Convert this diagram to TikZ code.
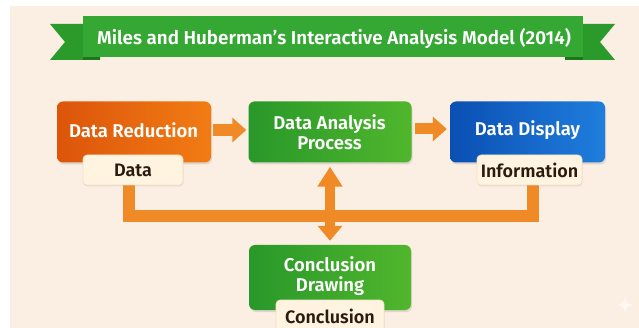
\documentclass[tikz,border=0pt]{standalone}
\usepackage{fontspec}
\setmainfont{Fira Sans}[BoldFont={Fira Sans SemiBold}]
\usetikzlibrary{arrows.meta,shadows}
\definecolor{bg}{HTML}{FBEEE2}
\definecolor{orL}{HTML}{DC550A}
\definecolor{orR}{HTML}{F27C14}
\definecolor{grL}{HTML}{28982A}
\definecolor{grR}{HTML}{50B62C}
\definecolor{blL}{HTML}{0B4FB3}
\definecolor{blR}{HTML}{1F7EDD}
\definecolor{cream}{HTML}{FFF4E0}
\definecolor{creamedge}{HTML}{F1DFC4}
\definecolor{dtext}{HTML}{2A1A10}
\definecolor{arrc}{HTML}{F08A26}
\definecolor{bann}{HTML}{35A733}
\definecolor{bannT}{HTML}{2A9A2A}
\definecolor{bannF}{HTML}{1B761D}
\tikzset{
  boxnode/.style={rounded corners=6pt, minimum height=61pt, inner sep=0pt,
    drop shadow={opacity=0.22, shadow xshift=1pt, shadow yshift=-2pt}},
  boxtext/.style={text=white, font=\fontsize{18.5}{20.5}\selectfont\bfseries, align=center},
  lblnode/.style={rounded corners=4pt, fill=cream, draw=creamedge, line width=0.6pt,
    text=dtext, font=\fontsize{18}{20}\selectfont\bfseries, inner sep=0pt, minimum height=30pt,
    drop shadow={opacity=0.15, shadow xshift=0.5pt, shadow yshift=-1.5pt}},
  arr/.style={draw=arrc, line width=12pt, -{Triangle[length=14pt,width=24pt]}},
  fb/.style={draw=arrc, line width=12pt, line join=miter},
}
\begin{document}
\begin{tikzpicture}[x=1pt,y=-1pt]
\useasboundingbox (0,0) rectangle (639,328);
\fill[white] (0,0) rectangle (639,328);
\fill[bg] (10,6) rectangle (639,328);

% banner
\fill[bannT] (50,24) -- (100,24) -- (100,60) -- (50,60) -- (65,42) -- cycle;
\fill[bannT] (615,24) -- (565,24) -- (565,60) -- (615,60) -- (600,42) -- cycle;
\fill[bannF] (83,57) -- (100,57) -- (100,60) -- (83,60) -- cycle;
\fill[bannF] (583,57) -- (565,57) -- (565,60) -- (583,60) -- cycle;
\node[fill=bann, minimum width=500pt, minimum height=41pt, inner sep=0pt, text=white,
  font=\fontsize{18.8}{22}\selectfont\bfseries] (title) at (333,36.5) {};
\node[text=white, font=\fontsize{18.8}{22}\selectfont\bfseries] (titlet) at (334,38.5)
  {Miles and Huberman’s Interactive Analysis Model (2014)};

% boxes
\node[boxnode, left color=orL, right color=orR, minimum width=154pt] (red) at (134,132) {};
\node[boxnode, left color=grL, right color=grR, minimum width=163pt] (ana) at (330,132) {};
\node[boxnode, left color=blL, right color=blR, minimum width=155pt] (disp) at (527.5,132) {};
\node[boxnode, left color=grL, right color=grR, minimum width=162pt, minimum height=65pt] (conc) at (330,277.5) {};
\node[boxtext] (redt) at (133.5,130) {Data Reduction};
\node[boxtext] (anat) at (329.5,132) {Data Analysis\\Process};
\node[boxtext] (dispt) at (527.5,130) {Data Display};
\node[boxtext] (conct) at (330,276) {Conclusion\\Drawing};

% connectors
\coordinate (j1) at (129,216);
\coordinate (j2) at (532.5,216);
\coordinate (jc) at (330,216);
\draw[fb] ([xshift=-6pt]j1) -- ([xshift=6pt]j2);
\draw[fb] ([yshift=-2pt]j1 |- red.south) -- (j1);
\draw[fb] ([yshift=-2pt]j2 |- disp.south) -- (j2);
\draw[arr, line width=10pt, -{Triangle[length=20pt,width=24pt]}] (jc) -- ([yshift=-4pt]ana.south);
\draw[arr, line width=10pt, -{Triangle[length=15pt,width=24pt]}] (jc) -- ([yshift=4pt]conc.north);
\draw[arr] ([xshift=2pt,yshift=2pt]red.east) -- ([xshift=-2pt,yshift=2pt]ana.west);
\draw[arr, line width=11pt] ([xshift=3pt,yshift=3pt]ana.east) -- ([xshift=-3pt,yshift=3pt]disp.west);

% labels
\node[lblnode, minimum width=100pt] (data) at (133,170) {Data};
\node[lblnode, minimum width=105pt] (info) at (529.5,170) {Information};
\node[lblnode, minimum width=108pt, minimum height=32pt] (concl) at (330,316) {Conclusion};

% faint sparkle
\fill[white, opacity=0.6] (625,295) .. controls (626,303) .. (633,305) .. controls (626,307) .. (625,315) .. controls (624,307) .. (617,305) .. controls (624,303) .. cycle;
\end{tikzpicture}
\end{document}
